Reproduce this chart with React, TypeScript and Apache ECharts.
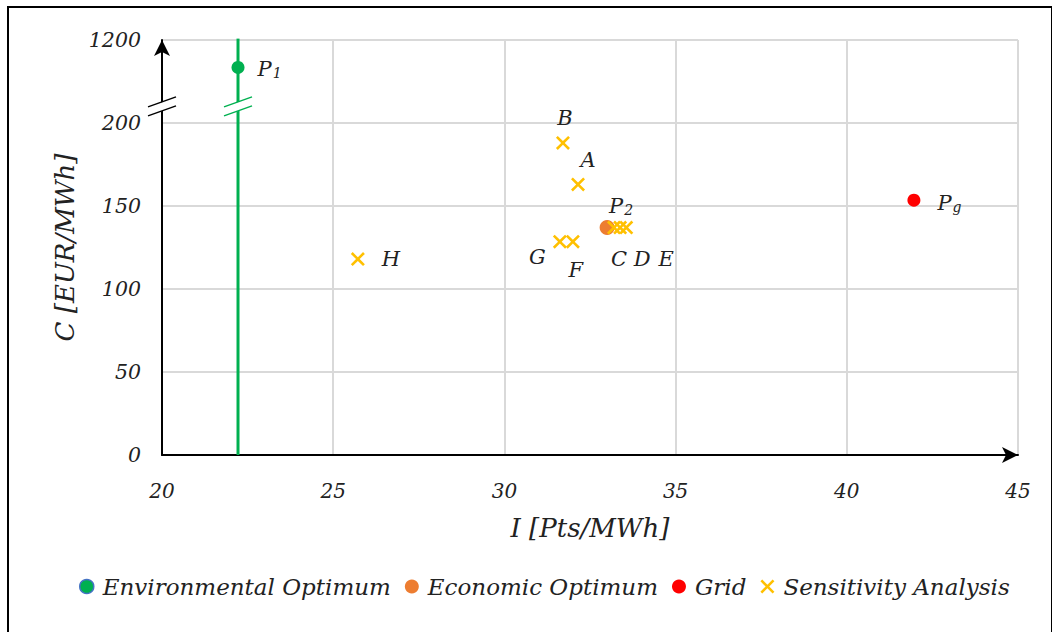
import React, { useEffect, useRef } from "react";
import * as echarts from "echarts";

// ---- data ----
const xTicks = [20, 25, 30, 35, 40, 45];
const yTicks = [0, 50, 100, 150, 200];
const yBreakLabel = "1200"; // top of broken axis
const yBreakValue = 1200;
const yBreakStart = 200;

const envOptimum = { name: "P", sub: "1", x: 22.22, c: 870 };
const ecoOptimum = { name: "P", sub: "2", x: 33.0, c: 137 };
const gridPoint = { name: "P", sub: "g", x: 41.96, c: 153.5 };

const sensNames = ["A", "B", "C", "D", "E", "F", "G", "H"];
const sensX = [32.15, 31.71, 33.2, 33.38, 33.56, 32.0, 31.62, 25.72];
const sensC = [163, 188, 137, 137, 137, 128.5, 128.5, 118];

const FONT = "DejaVu Serif";

// broken-axis mapping: 200..1200 squeezed into 200..250
const mapC = (c: number) =>
  c <= yBreakStart ? c : yBreakStart + ((c - yBreakStart) * 50) / (yBreakValue - yBreakStart);

const crossPath =
  "path://M0,1.3L1.3,0L5,3.7L8.7,0L10,1.3L6.3,5L10,8.7L8.7,10L5,6.3L1.3,10L0,8.7L3.7,5Z";

const sensLabelPos: Record<string, any> = {
  A: { position: "top", offset: [10, -2] },
  B: { position: "top", offset: [2, -2] },
  C: { position: "bottom", offset: [5, 9] },
  D: { position: "bottom", offset: [22, 9] },
  E: { position: "bottom", offset: [40, 9] },
  F: { position: "bottom", offset: [3, 6] },
  G: { position: "left", offset: [-2, 15] },
  H: { position: "right", offset: [12, 0] },
};

export default function App() {
  const ref = useRef<HTMLDivElement>(null);
  useEffect(() => {
    if (!ref.current) return;
    const chart = echarts.init(ref.current, undefined, { renderer: "svg" });
    const richLabel = {
      p: { fontFamily: FONT, fontStyle: "italic", fontSize: 21, color: "#222", lineHeight: 22, verticalAlign: "top" },
      s: { fontFamily: FONT, fontStyle: "italic", fontSize: 14, color: "#222", lineHeight: 14, verticalAlign: "bottom", padding: [12, 0, 0, 1] },
    };
    const subLabel = (p: { name: string; sub: string }) => `{p|${p.name}}{s|${p.sub}}`;

    const option: any = {
      animation: false,
      backgroundColor: "#fff",
      textStyle: { fontFamily: FONT },
      grid: { left: 162, right: 34, top: 40, bottom: 177, containLabel: false },
      legend: {
        bottom: 29,
        left: 74,
        itemWidth: 14,
        itemHeight: 14,
        itemGap: 14,
        textStyle: { fontFamily: FONT, fontStyle: "italic", fontSize: 23, color: "#222", padding: [0, 0, 0, 4] },
        data: [
          { name: "Environmental Optimum", icon: "circle", itemStyle: { color: "#00b050", borderColor: "#4472c4", borderWidth: 1.5 } },
          { name: "Economic Optimum", icon: "circle" },
          { name: "Grid", icon: "circle" },
          { name: "Sensitivity Analysis", icon: crossPath },
        ],
      },
      xAxis: {
        type: "value",
        min: xTicks[0],
        max: xTicks[xTicks.length - 1],
        interval: 5,
        name: "I [Pts/MWh]",
        nameLocation: "middle",
        nameGap: 60,
        nameTextStyle: { fontFamily: FONT, fontStyle: "italic", fontSize: 26, color: "#222" },
        axisLine: { show: true, lineStyle: { color: "#000", width: 2 }, symbol: ["none", "arrow"], symbolSize: [12, 16], symbolOffset: [0, 0] },
        axisTick: { show: false },
        axisLabel: { fontFamily: FONT, fontStyle: "italic", fontSize: 20, color: "#222", margin: 26 },
        splitLine: { show: true, lineStyle: { color: "#d9d9d9", width: 2 } },
      },
      yAxis: {
        type: "value",
        min: 0,
        max: 250,
        interval: 50,
        name: "C [EUR/MWh]",
        nameLocation: "middle",
        nameGap: 80,
        nameTextStyle: { fontFamily: FONT, fontStyle: "italic", fontSize: 26, color: "#222" },
        axisLine: { show: true, lineStyle: { color: "#000", width: 2 }, symbol: ["none", "arrow"], symbolSize: [12, 16], symbolOffset: [0, 0] },
        axisTick: { show: false },
        axisLabel: {
          fontFamily: FONT,
          fontStyle: "italic",
          fontSize: 20.5,
          color: "#222",
          margin: 21,
          formatter: (v: number) => (v === 250 ? yBreakLabel : yTicks.includes(v) ? String(v) : ""),
        },
        splitLine: { show: true, lineStyle: { color: "#d9d9d9", width: 2 } },
      },
      series: [
        {
          name: "envLine",
          type: "line",
          data: [
            [envOptimum.x, 0],
            [envOptimum.x, 251],
          ],
          symbol: "none",
          lineStyle: { color: "#00b050", width: 3 },
          silent: true,
          z: 3,
        },
        {
          name: "Environmental Optimum",
          type: "scatter",
          symbol: "circle",
          symbolSize: 13,
          itemStyle: { color: "#00b050", opacity: 1 },
          z: 5,
          data: [
            {
              value: [envOptimum.x, mapC(envOptimum.c)],
              label: { show: true, position: "right", offset: [8, 2], formatter: subLabel(envOptimum), rich: richLabel },
            },
          ],
        },
        {
          name: "Economic Optimum",
          type: "scatter",
          symbol: "circle",
          symbolSize: 15,
          itemStyle: { color: "#ed7d31", opacity: 1 },
          z: 5,
          data: [
            {
              value: [ecoOptimum.x, ecoOptimum.c],
              label: { show: true, position: "top", offset: [14, 2], formatter: subLabel(ecoOptimum), rich: richLabel },
            },
          ],
        },
        {
          name: "Grid",
          type: "scatter",
          symbol: "circle",
          symbolSize: 13,
          itemStyle: { color: "#ff0000", opacity: 1 },
          z: 5,
          data: [
            {
              value: [gridPoint.x, gridPoint.c],
              label: { show: true, position: "right", offset: [12, 3], formatter: subLabel(gridPoint), rich: richLabel },
            },
          ],
        },
        {
          name: "Sensitivity Analysis",
          type: "scatter",
          symbol: crossPath,
          symbolSize: 14,
          itemStyle: { color: "#ffc000", opacity: 1 },
          z: 6,
          data: sensNames.map((n, i) => ({
            value: [sensX[i], sensC[i]],
            label: {
              show: true,
              formatter: n,
              fontFamily: FONT,
              fontStyle: "italic",
              fontSize: 21,
              color: "#222",
              ...sensLabelPos[n],
            },
          })),
        },
        {
          name: "break",
          type: "custom",
          silent: true,
          z: 10,
          data: [
            [xTicks[0], 210],
            [envOptimum.x, 210],
          ],
          renderItem: (params: any, api: any) => {
            const p = api.coord([api.value(0), api.value(1)]);
            const w = 14;
            const dy = 5;
            const gap = 9;
            const stroke = params.dataIndex === 0 ? "#000" : "#00b050";
            return {
              type: "group",
              children: [
                {
                  type: "polygon",
                  shape: {
                    points: [
                      [p[0] - w, p[1] + dy - gap / 2 + 0],
                      [p[0] + w, p[1] - dy - gap / 2],
                      [p[0] + w, p[1] - dy + gap / 2],
                      [p[0] - w, p[1] + dy + gap / 2],
                    ],
                  },
                  style: { fill: "#fff", stroke: "none" },
                },
                {
                  type: "line",
                  shape: { x1: p[0] - w, y1: p[1] + dy - gap / 2, x2: p[0] + w, y2: p[1] - dy - gap / 2 },
                  style: { stroke, lineWidth: 1.5 },
                },
                {
                  type: "line",
                  shape: { x1: p[0] - w, y1: p[1] + dy + gap / 2, x2: p[0] + w, y2: p[1] - dy + gap / 2 },
                  style: { stroke, lineWidth: 1.5 },
                },
              ],
            };
          },
        },
      ],
    };
    chart.setOption(option);
    return () => chart.dispose();
  }, []);

  return (
    <div style={{ position: "fixed", left: 0, top: 0, width: 1052, height: 632, background: "#fff" }}>
      <div ref={ref} style={{ position: "absolute", left: 0, top: 0, width: 1052, height: 632 }} />
      <div
        style={{
          position: "absolute",
          left: 7,
          top: 6,
          width: 1042,
          height: 640,
          borderLeft: "2.5px solid #000",
          borderTop: "2.5px solid #000",
          borderRight: "2.5px solid #000",
          pointerEvents: "none",
        }}
      />
    </div>
  );
}
